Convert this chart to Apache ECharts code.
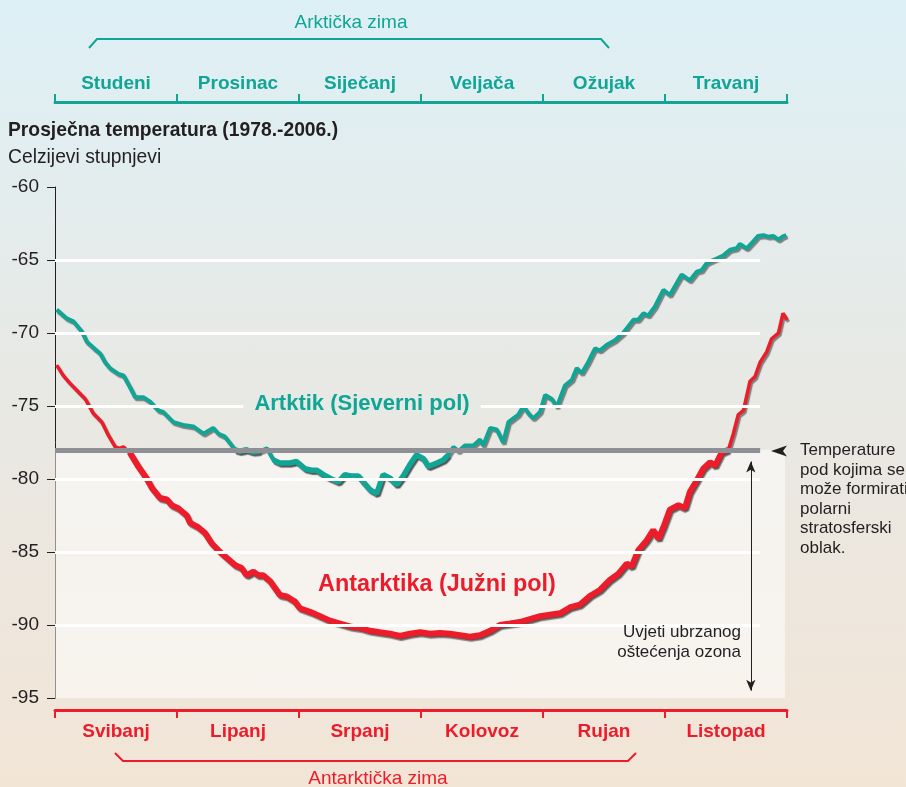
<!DOCTYPE html>
<html>
<head>
<meta charset="utf-8">
<script src="https://cdn.jsdelivr.net/npm/echarts@6/dist/echarts.min.js"></script>
<style>
  html, body { margin: 0; padding: 0; }
  #chart {
    width: 906px; height: 787px;
    background: linear-gradient(to bottom, #ddf0f6 0%, #e4ecec 28%, #e9e8e2 55%, #eee6dc 80%, #f2e5d6 100%);
  }
</style>
</head>
<body>
<div id="chart"></div>
<script>
// mjeseci (gore arktički, dolje antarktički)
const arcticMonths = ['Studeni', 'Prosinac', 'Siječanj', 'Veljača', 'Ožujak', 'Travanj']
const antarcticMonths = ['Svibanj', 'Lipanj', 'Srpanj', 'Kolovoz', 'Rujan', 'Listopad']

// dan u razdoblju od 6 mjeseci (0-180) i temperatura
const arcticDays = [0.4, 2.9, 4.5, 6.6, 7.8, 9.4, 11.1, 12.3, 13.5, 15.6, 16.8, 18.4, 19.7, 21.7, 23.4, 25.4, 26.6, 29.1, 31.5, 34.0,
  36.5, 38.9, 40.2, 41.8, 44.3, 45.5, 47.1, 48.7, 50.4, 52.1, 53.7, 55.3, 57.8, 59.4, 61.5, 63.1, 64.4, 66.0, 67.6, 69.7,
  71.3, 73.0, 74.6, 75.8, 77.5, 79.1, 80.7, 82.4, 84.0, 85.6, 87.3, 88.9, 90.6, 91.8, 93.9, 95.5, 96.7, 98.0, 99.2, 100.8,
  102.9, 104.5, 105.3, 107.0, 108.6, 110.2, 111.5, 112.7, 113.9, 115.2, 116.4, 117.6, 119.3, 120.5, 122.1, 123.4, 125.4, 127.1, 128.3, 129.5,
  131.1, 132.8, 134.0, 135.7, 137.7, 139.7, 142.2, 143.4, 144.7, 145.9, 147.5, 149.6, 151.2, 154.1, 156.1, 157.8, 159.0, 160.3, 162.7, 164.3,
  166.0, 167.6, 168.4, 170.1, 171.3, 172.9, 174.2, 175.4, 176.6, 177.9, 178.9, 179.8]
const arcticTemp = [-68.4, -69.0, -69.2, -69.9, -70.6, -71.0, -71.4, -72.0, -72.4, -72.8, -72.9, -73.7, -74.4, -74.4, -74.7, -75.3, -75.4, -76.1, -76.3, -76.4,
  -76.9, -76.5, -76.9, -77.1, -78.0, -78.1, -78.0, -78.15, -78.1, -77.9, -78.7, -78.9, -78.9, -78.8, -79.3, -79.4, -79.4, -79.7, -79.95, -80.2,
  -79.7, -79.8, -79.8, -80.2, -80.75, -81.0, -79.7, -79.95, -80.4, -79.8, -79.0, -78.35, -78.6, -79.15, -78.9, -78.7, -78.35, -77.8, -78.1, -77.7,
  -77.7, -77.3, -77.7, -76.5, -76.6, -77.5, -76.1, -75.85, -75.6, -75.0, -75.5, -75.85, -75.4, -74.25, -74.5, -75.05, -73.6, -73.2, -72.4, -72.75,
  -72.0, -71.05, -71.2, -70.8, -70.5, -70.0, -69.1, -69.1, -68.65, -68.8, -68.2, -67.05, -67.4, -66.0, -66.4, -65.8, -65.7, -65.2, -64.9, -64.7,
  -64.3, -64.2, -63.9, -64.2, -63.85, -63.35, -63.3, -63.4, -63.35, -63.6, -63.4, -63.3]

const antarcticDays = [0.4, 2.0, 3.7, 5.3, 7.4, 9.4, 11.5, 13.1, 14.8, 16.0, 16.8, 18.4, 20.5, 22.5, 23.8, 25.8, 27.5, 28.7, 30.3, 32.4,
  33.2, 35.2, 36.9, 38.5, 40.6, 42.2, 44.3, 45.9, 47.1, 48.8, 50.0, 51.2, 52.9, 55.3, 57.0, 59.0, 60.2, 62.7, 65.2, 67.6,
  70.1, 72.5, 75.0, 77.5, 79.9, 82.4, 84.8, 87.3, 89.8, 92.2, 94.7, 97.1, 99.6, 102.0, 104.5, 107.0, 109.4, 111.9, 114.3, 116.8,
  119.3, 121.7, 124.2, 126.6, 129.1, 131.6, 134.0, 136.5, 138.5, 140.6, 141.8, 143.4, 145.5, 147.1, 148.4, 149.6, 151.2, 153.3, 154.9, 156.1,
  157.8, 159.4, 161.1, 162.3, 163.9, 165.6, 166.8, 168.0, 169.3, 170.9, 172.1, 173.4, 175.0, 176.2, 177.9, 179.0, 180.0]
const antarcticTemp = [-72.2, -72.9, -73.45, -73.9, -74.5, -75.5, -76.1, -77.0, -77.8, -77.9, -77.8, -78.2, -79.15, -79.95, -80.6, -81.3, -81.4, -81.8, -82.0, -82.5,
  -83.0, -83.3, -83.7, -84.4, -85.0, -85.4, -85.9, -86.1, -86.6, -86.35, -86.6, -86.6, -87.0, -87.95, -88.05, -88.4, -88.85, -89.1, -89.4, -89.7,
  -89.9, -90.1, -90.2, -90.4, -90.5, -90.6, -90.75, -90.6, -90.5, -90.6, -90.55, -90.6, -90.7, -90.8, -90.7, -90.4, -90.0, -89.9, -89.8, -89.6,
  -89.4, -89.3, -89.2, -88.8, -88.6, -88.0, -87.6, -86.9, -86.5, -85.8, -86.0, -84.9, -84.2, -83.5, -84.1, -83.3, -82.1, -81.8, -82.0, -80.9,
  -80.1, -79.3, -78.85, -79.1, -78.2, -78.0, -76.9, -75.6, -75.3, -73.3, -73.0, -72.0, -71.3, -70.4, -70.0, -68.65, -69.1]

// os i prag
const yTicks = [-95, -90, -85, -80, -75, -70, -65, -60]
const gridValues = [-65, -70, -75, -80, -85, -90]
const psc = -78 // prag za polarni stratosferski oblak

const TEAL = '#10a595'
const RED = '#ec1c2a'
const FONT = '"Liberation Sans", Arial, sans-serif'

const pairs = (days, temps) => days.map((d, i) => [d, temps[i]])
// dio krivulje ispod praga crta se debljom linijom
const below = (days, temps) => days.map((d, i) => [d, temps[i] <= psc ? temps[i] : null])

const shadow = { shadowColor: 'rgba(40,40,40,0.55)', shadowBlur: 1, shadowOffsetX: 1.5, shadowOffsetY: 2 }

const chart = echarts.init(document.getElementById('chart'))

chart.setOption({
  animation: false,
  backgroundColor: 'transparent',
  textStyle: { fontFamily: FONT },
  grid: { left: 55, right: 119, top: 187, bottom: 89 },
  xAxis: [
    { type: 'value', min: 0, max: 180, show: false },
    {
      type: 'category', data: arcticMonths, position: 'top', offset: 85,
      axisLine: { lineStyle: { color: TEAL, width: 3 } },
      axisTick: { show: true, length: 8, lineStyle: { color: TEAL, width: 2 } },
      axisLabel: { color: TEAL, fontWeight: 'bold', fontSize: 19, margin: 9, fontFamily: FONT },
      splitLine: { show: false }
    },
    {
      type: 'category', data: antarcticMonths, position: 'bottom', offset: 12,
      axisLine: { lineStyle: { color: RED, width: 3 } },
      axisTick: { show: true, length: 8, lineStyle: { color: RED, width: 2 } },
      axisLabel: { color: RED, fontWeight: 'bold', fontSize: 19, margin: 12, fontFamily: FONT },
      splitLine: { show: false }
    }
  ],
  yAxis: {
    type: 'value', min: yTicks[0], max: yTicks[yTicks.length - 1], interval: 5,
    axisLine: { show: true, lineStyle: { color: '#231f20', width: 1 } },
    axisTick: { show: true, length: 8, lineStyle: { color: '#231f20' } },
    axisLabel: { color: '#231f20', fontSize: 19, margin: 16, fontFamily: FONT },
    splitLine: { show: false }
  },
  graphic: [
    { type: 'text', z: 100, left: 8, top: 121, style: { text: 'Prosječna temperatura (1978.-2006.)', font: 'bold 19.3px ' + FONT, fill: '#231f20' } },
    { type: 'text', z: 100, left: 8, top: 148, style: { text: 'Celzijevi stupnjevi', font: '19.3px ' + FONT, fill: '#231f20' } },
    // zagrade
    { type: 'polyline', z: 100, shape: { points: [[89, 48], [97, 39], [601, 39], [609, 48]] }, style: { stroke: TEAL, lineWidth: 2, fill: null } },
    { type: 'text', z: 100, x: 351, y: 23, style: { text: 'Arktička zima', font: '19px ' + FONT, fill: TEAL, align: 'center', verticalAlign: 'middle' } },
    { type: 'polyline', z: 100, shape: { points: [[115, 753], [123, 761], [628, 761], [636, 753]] }, style: { stroke: RED, lineWidth: 2, fill: null } },
    { type: 'text', z: 100, x: 378, y: 779, style: { text: 'Antarktička zima', font: '19px ' + FONT, fill: RED, align: 'center', verticalAlign: 'middle' } },
    // natpisi krivulja
    { type: 'text', z: 100, x: 362, y: 404, style: { text: 'Artktik (Sjeverni pol)', font: 'bold 22px ' + FONT, fill: TEAL, align: 'center', verticalAlign: 'middle', backgroundColor: '#e7e9e5', padding: [0, 11] } },
    { type: 'text', z: 100, x: 437, y: 585, style: { text: 'Antarktika (Južni pol)', font: 'bold 23.4px ' + FONT, fill: RED, align: 'center', verticalAlign: 'middle' } },
    // strelica praga i objašnjenje
    { type: 'polygon', z: 100, shape: { points: [[771, 451], [787, 445.5], [783, 451], [787, 456.5]] }, style: { fill: '#231f20' } },
    { type: 'text', z: 100, left: 800, top: 441, style: { text: 'Temperature\npod kojima se\nmože formirati\npolarni\nstratosferski\noblak.', font: '17px ' + FONT, fill: '#231f20', lineHeight: 19.5 } },
    { type: 'text', z: 100, x: 741, y: 642, style: { text: 'Uvjeti ubrzanog\noštećenja ozona', font: '17px ' + FONT, fill: '#231f20', align: 'right', verticalAlign: 'middle', lineHeight: 20 } }
  ],
  series: [
    {
      type: 'line', data: [], z: 1, silent: true,
      markArea: {
        silent: true,
        itemStyle: { color: 'rgba(255,255,255,0.5)' },
        data: [[{ coord: [0, psc] }, { coord: [179.5, yTicks[0]] }]]
      },
      markLine: {
        silent: true, symbol: 'none', label: { show: false },
        data: gridValues.map(v => [
          { coord: [0, v], lineStyle: { color: '#ffffff', width: 3, type: 'solid' } },
          { coord: [173.4, v] }
        ]).concat([
          [{ coord: [0, psc], lineStyle: { color: '#8f9096', width: 5, type: 'solid' } }, { coord: [173.4, psc] }],
          [{ coord: [171.1, -78.8], symbol: 'arrow', symbolSize: [7, 11], lineStyle: { color: '#231f20', width: 1, type: 'solid' } },
           { coord: [171.1, -94.5], symbol: 'arrow', symbolSize: [7, 11] }]
        ])
      }
    },
    {
      name: 'Arktik', type: 'line', z: 3, showSymbol: false, data: pairs(arcticDays, arcticTemp),
      lineStyle: Object.assign({ color: TEAL, width: 4 }, shadow)
    },
    {
      name: 'Arktik ispod', type: 'line', z: 3, showSymbol: false, data: below(arcticDays, arcticTemp),
      lineStyle: Object.assign({ color: TEAL, width: 5.5 }, shadow)
    },
    {
      name: 'Antarktik', type: 'line', z: 4, showSymbol: false, data: pairs(antarcticDays, antarcticTemp),
      lineStyle: Object.assign({ color: RED, width: 3.5 }, shadow)
    },
    {
      name: 'Antarktik ispod', type: 'line', z: 4, showSymbol: false, data: below(antarcticDays, antarcticTemp),
      lineStyle: Object.assign({ color: RED, width: 6 }, shadow)
    }
  ]
})
</script>
</body>
</html>
